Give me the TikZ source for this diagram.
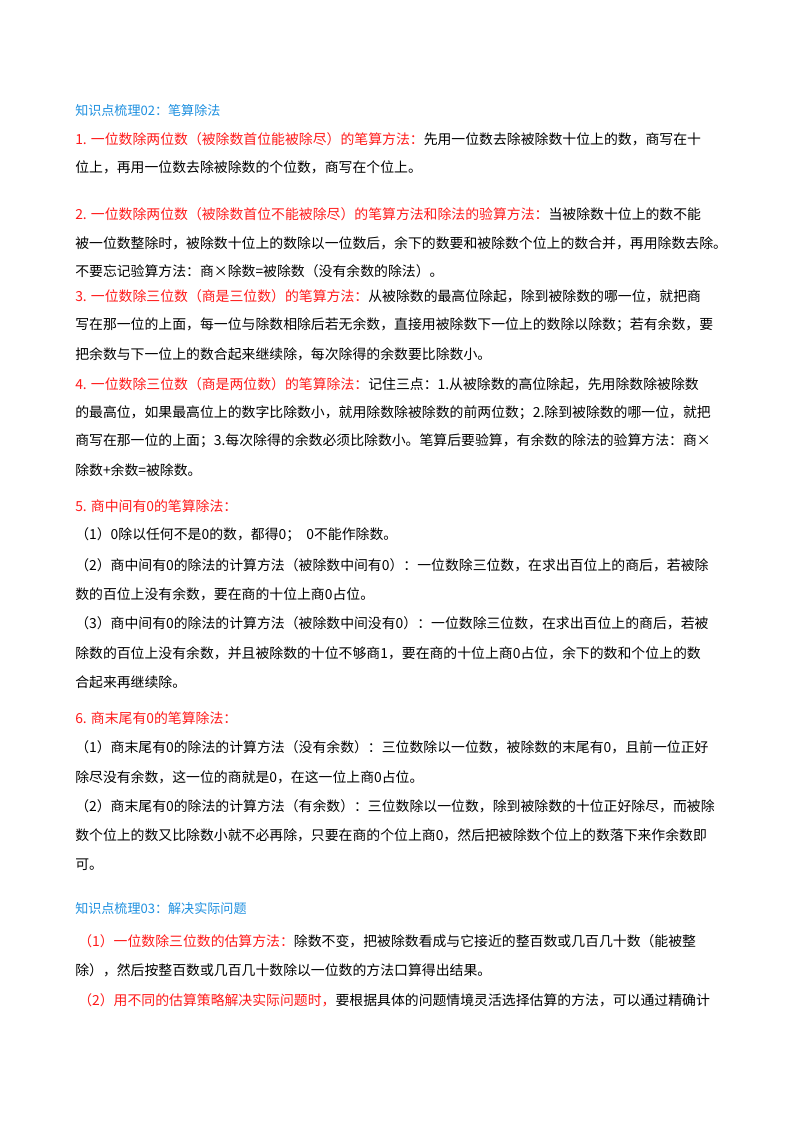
\documentclass[tikz,border=0pt]{standalone}
\usepackage{fontspec}
\setmainfont{Noto Sans CJK SC}
\definecolor{tred}{HTML}{FF1A1A}
\definecolor{tblue}{HTML}{1E90E0}
\begin{document}
\begin{tikzpicture}[x=0.75pt,y=-0.75pt,
  ln/.style={anchor=west,inner sep=0pt,font=\fontsize{10.4pt}{12pt}\selectfont},
  hd/.style={ln,text=tblue,font=\fontsize{9.8pt}{12pt}\selectfont}]
\fill[white] (0,0) rectangle (800,1132);
\useasboundingbox (0,0) rectangle (800,1132);
\node[hd] (h1) at (75,110) {知识点梳理02：笔算除法};
\node[ln] (a1) at (75,139) {\textcolor{tred}{1. 一位数除两位数（被除数首位能被除尽）的笔算方法：}先用一位数去除被除数十位上的数，商写在十};
\node[ln] (a2) at (75,167) {位上，再用一位数去除被除数的个位数，商写在个位上。};
\node[ln] (b1) at (75,214) {\textcolor{tred}{2. 一位数除两位数（被除数首位不能被除尽）的笔算方法和除法的验算方法：}当被除数十位上的数不能};
\node[ln] (b2) at (75,243) {被一位数整除时，被除数十位上的数除以一位数后，余下的数要和被除数个位上的数合并，再用除数去除。};
\node[ln] (b3) at (75,271) {不要忘记验算方法：商×除数=被除数（没有余数的除法）。};
\node[ln] (c1) at (75,296) {\textcolor{tred}{3. 一位数除三位数（商是三位数）的笔算方法：}从被除数的最高位除起，除到被除数的哪一位，就把商};
\node[ln] (c2) at (75,325) {写在那一位的上面，每一位与除数相除后若无余数，直接用被除数下一位上的数除以除数；若有余数，要};
\node[ln] (c3) at (75,354) {把余数与下一位上的数合起来继续除，每次除得的余数要比除数小。};
\node[ln] (d1) at (75,384) {\textcolor{tred}{4. 一位数除三位数（商是两位数）的笔算除法：}记住三点：1.从被除数的高位除起，先用除数除被除数};
\node[ln] (d2) at (75,413) {的最高位，如果最高位上的数字比除数小，就用除数除被除数的前两位数；2.除到被除数的哪一位，就把};
\node[ln] (d3) at (75,441) {商写在那一位的上面；3.每次除得的余数必须比除数小。笔算后要验算，有余数的除法的验算方法：商×};
\node[ln] (d4) at (75,470) {除数+余数=被除数。};
\node[ln] (e0) at (75,506) {\textcolor{tred}{5. 商中间有0的笔算除法：}};
\node[ln] (e1) at (75,535) {（1）0除以任何不是0的数，都得0；\ \ 0不能作除数。};
\node[ln] (e2) at (75,565) {（2）商中间有0的除法的计算方法（被除数中间有0）：一位数除三位数，在求出百位上的商后，若被除};
\node[ln] (e3) at (75,594) {数的百位上没有余数，要在商的十位上商0占位。};
\node[ln] (e4) at (75,623) {（3）商中间有0的除法的计算方法（被除数中间没有0）：一位数除三位数，在求出百位上的商后，若被};
\node[ln] (e5) at (75,653) {除数的百位上没有余数，并且被除数的十位不够商1，要在商的十位上商0占位，余下的数和个位上的数};
\node[ln] (e6) at (75,682) {合起来再继续除。};
\node[ln] (f0) at (75,718) {\textcolor{tred}{6. 商末尾有0的笔算除法：}};
\node[ln] (f1) at (75,747) {（1）商末尾有0的除法的计算方法（没有余数）：三位数除以一位数，被除数的末尾有0，且前一位正好};
\node[ln] (f2) at (75,777) {除尽没有余数，这一位的商就是0，在这一位上商0占位。};
\node[ln] (f3) at (75,806) {（2）商末尾有0的除法的计算方法（有余数）：三位数除以一位数，除到被除数的十位正好除尽，而被除};
\node[ln] (f4) at (75,835) {数个位上的数又比除数小就不必再除，只要在商的个位上商0，然后把被除数个位上的数落下来作余数即};
\node[ln] (f5) at (75,865) {可。};
\node[hd] (h2) at (75,908) {知识点梳理03：解决实际问题};
\node[ln] (g1) at (78,941) {\textcolor{tred}{（1）一位数除三位数的估算方法：}除数不变，把被除数看成与它接近的整百数或几百几十数（能被整};
\node[ln] (g2) at (75,970) {除），然后按整百数或几百几十数除以一位数的方法口算得出结果。};
\node[ln] (g3) at (78,1000) {\textcolor{tred}{（2）用不同的估算策略解决实际问题时，}要根据具体的问题情境灵活选择估算的方法，可以通过精确计};
\end{tikzpicture}
\end{document}
